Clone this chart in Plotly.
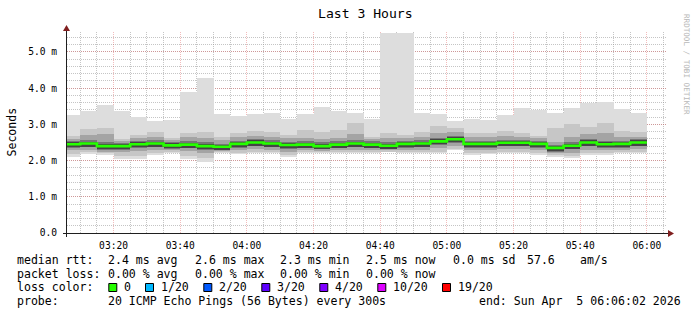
import plotly.graph_objects as go
import pandas as pd

# ---------------- data (milliseconds) ----------------
bar_start = list(pd.date_range("2026-04-05 03:05", periods=35, freq="5min"))
max_ms = [3.26, 3.38, 3.53, 3.38, 3.20, 3.09, 3.13, 3.90, 4.28, 3.29, 3.23, 3.29,
          3.31, 3.16, 3.29, 3.48, 3.38, 3.31, 3.16, 5.53, 5.53, 3.31, 3.29, 3.10,
          3.16, 3.13, 3.26, 3.45, 3.41, 3.31, 3.45, 3.60, 3.63, 3.42, 3.31]
up1_ms = [2.69, 2.86, 2.89, 2.59, 2.71, 2.78, 2.62, 2.76, 2.78, 2.66, 2.76, 2.83,
          2.80, 2.71, 2.85, 2.80, 2.85, 3.03, 2.66, 2.76, 2.71, 2.80, 2.95, 2.90,
          2.76, 2.76, 2.83, 2.76, 2.69, 2.89, 3.00, 2.94, 3.03, 2.82, 2.78]
up2_ms = [2.60, 2.70, 2.72, 2.54, 2.62, 2.64, 2.57, 2.64, 2.62, 2.56, 2.64, 2.69,
          2.66, 2.61, 2.62, 2.59, 2.63, 2.74, 2.59, 2.63, 2.62, 2.66, 2.76, 2.78,
          2.64, 2.64, 2.68, 2.66, 2.62, 2.52, 2.64, 2.72, 2.77, 2.64, 2.66]
up3_ms = [2.54, 2.57, 2.52, 2.49, 2.54, 2.56, 2.51, 2.53, 2.50, 2.47, 2.55, 2.59,
          2.56, 2.52, 2.53, 2.50, 2.53, 2.57, 2.53, 2.50, 2.55, 2.57, 2.63, 2.69,
          2.55, 2.55, 2.58, 2.58, 2.55, 2.44, 2.50, 2.59, 2.55, 2.55, 2.59]
median_ms = [2.45, 2.47, 2.40, 2.40, 2.45, 2.47, 2.42, 2.44, 2.40, 2.38, 2.46, 2.50,
             2.47, 2.43, 2.44, 2.40, 2.44, 2.47, 2.44, 2.41, 2.46, 2.47, 2.53, 2.59,
             2.46, 2.46, 2.49, 2.49, 2.46, 2.35, 2.41, 2.50, 2.45, 2.46, 2.50]
lo3_ms = [2.35, 2.37, 2.30, 2.30, 2.35, 2.37, 2.33, 2.34, 2.30, 2.30, 2.36, 2.40,
          2.37, 2.33, 2.34, 2.31, 2.34, 2.37, 2.34, 2.32, 2.36, 2.37, 2.43, 2.49,
          2.36, 2.36, 2.39, 2.39, 2.36, 2.25, 2.31, 2.40, 2.35, 2.36, 2.40]
lo2_ms = [2.28, 2.30, 2.25, 2.23, 2.26, 2.30, 2.28, 2.26, 2.20, 2.26, 2.28, 2.31,
          2.29, 2.25, 2.28, 2.26, 2.28, 2.30, 2.28, 2.28, 2.30, 2.30, 2.34, 2.41,
          2.28, 2.29, 2.32, 2.32, 2.28, 2.20, 2.22, 2.30, 2.28, 2.29, 2.32]
lo1_ms = [2.17, 2.23, 2.21, 2.13, 2.13, 2.22, 2.25, 2.14, 2.07, 2.23, 2.22, 2.24,
          2.24, 2.16, 2.23, 2.23, 2.24, 2.24, 2.24, 2.25, 2.25, 2.24, 2.25, 2.33,
          2.20, 2.21, 2.25, 2.25, 2.20, 2.15, 2.12, 2.21, 2.21, 2.24, 2.25]
min_ms = [2.11, 2.18, 2.16, 2.05, 2.05, 2.16, 2.20, 2.05, 1.97, 2.20, 2.18, 2.20,
          2.20, 2.11, 2.20, 2.20, 2.20, 2.20, 2.20, 2.23, 2.22, 2.20, 2.20, 2.28,
          2.15, 2.17, 2.20, 2.20, 2.16, 2.11, 2.06, 2.16, 2.16, 2.20, 2.20]

y_tick_vals = [0, 1, 2, 3, 4, 5]
y_tick_text = ["0.0", "1.0 m", "2.0 m", "3.0 m", "4.0 m", "5.0 m"]

stats_rtt = ["median rtt:", "2.4 ms avg", "2.6 ms max", "2.3 ms min", "2.5 ms now",
             "0.0 ms sd", "57.6", "am/s"]
stats_loss = ["packet loss:", "0.00 % avg", "0.00 % max", "0.00 % min", "0.00 % now"]
loss_labels = ["0", "1/20", "2/20", "3/20", "4/20", "10/20", "19/20"]
loss_colors = ["#26ff00", "#00b8ff", "#0059ff", "#5e00ff", "#7e00ff", "#dd00ff", "#ff0000"]
probe_text = ["probe:", "20 ICMP Echo Pings (56 Bytes) every 300s",
              "end: Sun Apr  5 06:06:02 2026"]

# ---------------- layout helpers ----------------
W, H = 697, 315
ML, MR, MT, MB = 67, 30, 32, 82
PW, PH = W - ML - MR, H - MT - MB
MONO = "DejaVu Sans Mono"


def fx(px):
    return (px - ML) / PW


def fy(py):
    return (H - MB - py) / PH


step = pd.Timedelta(minutes=5)
centers = [t + step / 2 for t in bar_start]

fig = go.Figure()
layers = [(min_ms, max_ms, "#dddddd"), (lo1_ms, up1_ms, "#c6c6c6"),
          (lo2_ms, up2_ms, "#a4a4a4"), (lo3_ms, up3_ms, "#767676")]
for lo, hi, col in layers:
    fig.add_trace(go.Bar(x=centers, y=[h - l for h, l in zip(hi, lo)], base=lo,
                         width=300000, marker=dict(color=col, line=dict(width=0)),
                         hoverinfo="skip"))

# dark core of the smoke around the median (style band, fixed thickness)
fig.add_trace(go.Bar(x=centers, y=[0.14] * len(median_ms), base=[m - 0.085 for m in median_ms],
                     width=300000, marker=dict(color="#444444", line=dict(width=0)),
                     hoverinfo="skip"))

mx = bar_start + [bar_start[-1] + step]
my = median_ms + [median_ms[-1]]
fig.add_trace(go.Scatter(x=mx, y=my, mode="lines", line=dict(color="#26ff00", width=2.6, shape="hv"),
                         hoverinfo="skip"))

minor_grid = "rgba(150,150,150,0.55)"
major_grid = "rgba(222,79,79,0.38)"

fig.update_layout(
    width=W, height=H, margin=dict(l=ML, r=MR, t=MT, b=MB),
    paper_bgcolor="white", plot_bgcolor="white", showlegend=False,
    barmode="overlay", bargap=0,
    xaxis=dict(type="date", range=["2026-04-05 03:06:02", "2026-04-05 06:06:02"],
               tickmode="linear", tick0="2026-04-05 03:20", dtick=1200000,
               tickformat="%H:%M", showgrid=True, gridcolor=major_grid, griddash="1px,1px",
               gridwidth=1, ticks="outside", ticklen=3, tickcolor="rgba(0,0,0,0)",
               tickfont=dict(family=MONO, size=9.6, color="black"),
               minor=dict(tickmode="linear", tick0="2026-04-05 03:20", dtick=300000,
                          showgrid=True, gridcolor=minor_grid, griddash="1px,1px", gridwidth=1),
               showline=False, zeroline=False, fixedrange=True),
    yaxis=dict(range=[0, 5.55], tickmode="array", tickvals=y_tick_vals, ticktext=y_tick_text,
               showgrid=True, gridcolor=major_grid, griddash="1px,1px", gridwidth=1,
               ticks="outside", ticklen=7, tickcolor="rgba(0,0,0,0)",
               tickfont=dict(family=MONO, size=9.6, color="black"),
               minor=dict(tickmode="linear", tick0=0, dtick=0.2, showgrid=True,
                          gridcolor=minor_grid, griddash="1px,1px", gridwidth=1),
               showline=False, zeroline=False, fixedrange=True),
)

shapes = []
# axes
shapes.append(dict(type="line", xref="paper", yref="paper", x0=fx(63), x1=fx(669),
                   y0=fy(233.5), y1=fy(233.5), line=dict(color="#1f1f1f", width=1)))
shapes.append(dict(type="line", xref="paper", yref="paper", x0=fx(66.5), x1=fx(66.5),
                   y0=fy(237), y1=fy(30), line=dict(color="#1f1f1f", width=1)))
shapes.append(dict(type="path", xref="paper", yref="paper",
                   path=f"M {fx(668)},{fy(230)} L {fx(674)},{fy(233.5)} L {fx(668)},{fy(237)} Z",
                   fillcolor="#801f1f", line=dict(width=0)))
shapes.append(dict(type="path", xref="paper", yref="paper",
                   path=f"M {fx(63)},{fy(31)} L {fx(66.5)},{fy(25)} L {fx(70)},{fy(31)} Z",
                   fillcolor="#801f1f", line=dict(width=0)))

ann = []


def txt(s, px, py, size=11.55, color="black", xanchor="left", angle=0):
    ann.append(dict(text=s.replace(" ", "\u00a0"), x=fx(px), y=fy(py), xref="paper", yref="paper",
                    xanchor=xanchor, yanchor="middle", showarrow=False, borderpad=0,
                    textangle=angle, font=dict(family=MONO, size=size, color=color)))


txt("Last 3 Hours", 365.5, 13.5, size=13.1, xanchor="center")
txt("Seconds", 11, 132.5, xanchor="center", angle=-90)
txt("RRDTOOL / TOBI OETIKER", 687, 64, size=7.6, color="#b8b8b8", xanchor="center", angle=90)

rtt_x = [16, 107.3, 194, 279, 365, 451.7, 526, 579.3]
for s, px in zip(stats_rtt, rtt_x):
    txt(s, px, 260)
loss_x = [16, 107.3, 194, 279, 365]
for s, px in zip(stats_loss, loss_x):
    txt(s, px, 273.5)
txt("loss color:", 16, 287.3)
sq_x = [108.3, 145, 203.3, 261.3, 319.3, 377.3, 442]
for s, c, px in zip(loss_labels, loss_colors, sq_x):
    shapes.append(dict(type="rect", xref="paper", yref="paper", x0=fx(px + 0.5), x1=fx(px + 8.5),
                       y0=fy(291.5), y1=fy(283.5), fillcolor=c, line=dict(color="black", width=1)))
    txt(s, px + 15, 287.3)
probe_x = [16, 107.3, 478.3]
for s, px in zip(probe_text, probe_x):
    txt(s, px, 300.7)

fig.update_layout(shapes=shapes, annotations=ann)
fig.write_html("out.html")
